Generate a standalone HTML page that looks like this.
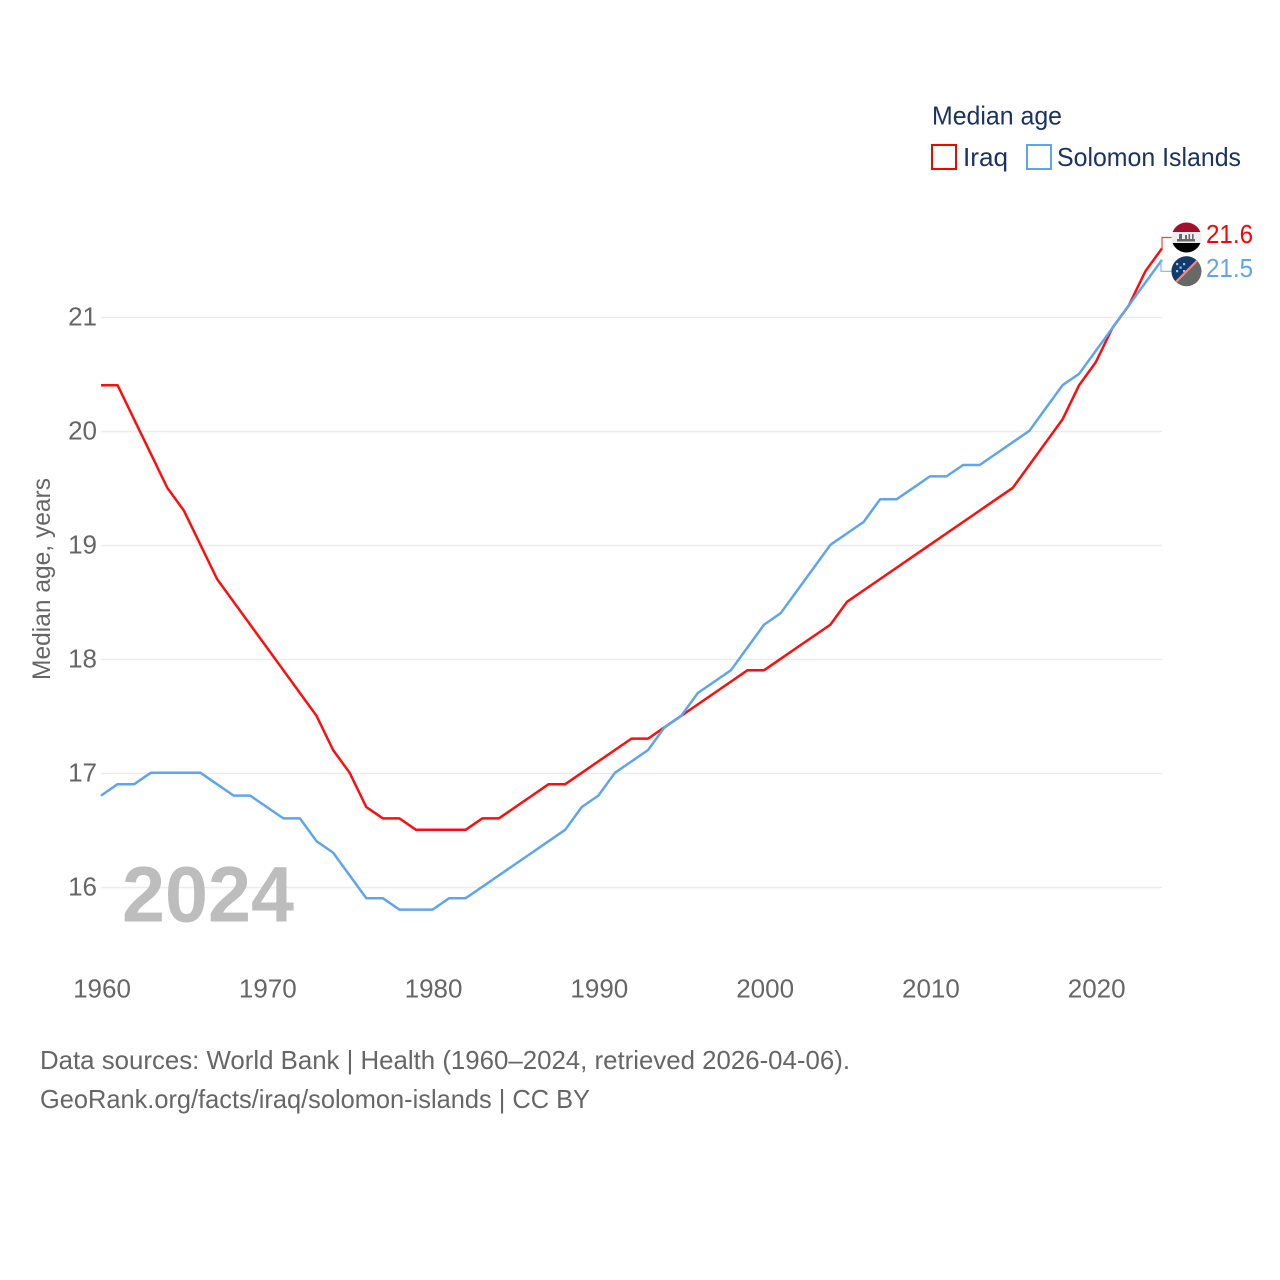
<!DOCTYPE html>
<html lang="en">
<head>
<meta charset="utf-8">
<title>Median age: Iraq and Solomon Islands</title>
<style>
html,body{margin:0;padding:0;background:#fff;}
svg{display:block;font-family:"Liberation Sans",sans-serif;}
</style>
</head>
<body>
<svg id="chart" xmlns="http://www.w3.org/2000/svg" width="1280" height="1280" viewBox="0 0 1280 1280">
  <defs>
    <clipPath id="clip-iraq"><circle cx="1186.5" cy="237.5" r="15"/></clipPath>
    <clipPath id="clip-solomon"><circle cx="1186.5" cy="271.3" r="15"/></clipPath>
  </defs>
  <rect x="0" y="0" width="1280" height="1280" fill="#ffffff"/>
  <g id="grid"></g>
  <text x="122" y="921.5" font-size="79" font-weight="700" fill="#bdbdbd" textLength="172" lengthAdjust="spacingAndGlyphs">2024</text>
  <g id="y-ticks"></g>
  <g id="x-ticks"></g>
  <text transform="translate(50,680) rotate(-90)" font-size="25" fill="#666666" textLength="202" lengthAdjust="spacingAndGlyphs">Median age, years</text>
  <g id="series"></g>

  <g>
    <text x="932" y="124.5" font-size="26" fill="#1a3360" textLength="130" lengthAdjust="spacingAndGlyphs">Median age</text>
    <g>
      <rect x="932" y="145" width="24" height="24" fill="#ffffff" stroke="#ff0000" stroke-width="2"/>
      <text x="963" y="166" font-size="26" fill="#1a3360" textLength="45" lengthAdjust="spacingAndGlyphs">Iraq</text>
    </g>
    <g>
      <rect x="1027" y="145" width="24" height="24" fill="#ffffff" stroke="#5fa5ec" stroke-width="2"/>
      <text x="1057" y="166" font-size="26" fill="#1a3360" textLength="184" lengthAdjust="spacingAndGlyphs">Solomon Islands</text>
    </g>
  </g>

  <g id="end-connectors"></g>

  <g clip-path="url(#clip-iraq)">
    <rect x="1170" y="221" width="34" height="11" fill="#a50f2d"/>
    <rect x="1170" y="232" width="34" height="11" fill="#eeeeee"/>
    <rect x="1170" y="243" width="34" height="11" fill="#000000"/>
    <rect x="1177" y="239" width="18" height="2.5" fill="#6a6a6a"/>
    <rect x="1179" y="234" width="3" height="5" fill="#6a6a6a"/>
    <rect x="1185" y="235" width="2" height="4" fill="#6a6a6a"/>
    <rect x="1188.5" y="234" width="1.6" height="5" fill="#6a6a6a"/>
    <rect x="1192" y="234" width="1.6" height="5" fill="#6a6a6a"/>
  </g>
  <g clip-path="url(#clip-solomon)">
    <rect x="1170" y="255" width="34" height="34" fill="#666a66"/>
    <polygon points="1170,255 1204,255 1170,288.6" fill="#123a6d"/>
    <line x1="1170" y1="287.8" x2="1203" y2="254.8" stroke="#f08a80" stroke-width="2.2"/>
    <g fill="#8fc6ee">
      <rect x="1176" y="263" width="2.2" height="2.2"/>
      <rect x="1183" y="263" width="2.2" height="2.2"/>
      <rect x="1179.5" y="266.5" width="2.2" height="2.2"/>
      <rect x="1176" y="270" width="2.2" height="2.2"/>
      <rect x="1183" y="270" width="2.2" height="2.2"/>
    </g>
  </g>

  <text x="1206" y="243" font-size="26" fill="#ff0000" textLength="47" lengthAdjust="spacingAndGlyphs">21.6</text>
  <text x="1206" y="277" font-size="26" fill="#5fa5ec" textLength="47" lengthAdjust="spacingAndGlyphs">21.5</text>

  <text x="40" y="1069" font-size="26" fill="#666666" textLength="810" lengthAdjust="spacingAndGlyphs">Data sources: World Bank | Health (1960–2024, retrieved 2026-04-06).</text>
  <a><text x="40" y="1108" font-size="26" fill="#666666" textLength="550" lengthAdjust="spacingAndGlyphs">GeoRank.org/facts/iraq/solomon-islands | CC BY</text></a>
</svg>
<script>
const startYear = 1960;
const iraqValues = [20.4,20.4,20.1,19.8,19.5,19.3,19.0,18.7,18.5,18.3,18.1,17.9,17.7,17.5,17.2,17.0,16.7,16.6,16.6,16.5,16.5,16.5,16.5,16.6,16.6,16.7,16.8,16.9,16.9,17.0,17.1,17.2,17.3,17.3,17.4,17.5,17.6,17.7,17.8,17.9,17.9,18.0,18.1,18.2,18.3,18.5,18.6,18.7,18.8,18.9,19.0,19.1,19.2,19.3,19.4,19.5,19.7,19.9,20.1,20.4,20.6,20.9,21.1,21.4,21.6];
const solomonValues = [16.8,16.9,16.9,17.0,17.0,17.0,17.0,16.9,16.8,16.8,16.7,16.6,16.6,16.4,16.3,16.1,15.9,15.9,15.8,15.8,15.8,15.9,15.9,16.0,16.1,16.2,16.3,16.4,16.5,16.7,16.8,17.0,17.1,17.2,17.4,17.5,17.7,17.8,17.9,18.1,18.3,18.4,18.6,18.8,19.0,19.1,19.2,19.4,19.4,19.5,19.6,19.6,19.7,19.7,19.8,19.9,20.0,20.2,20.4,20.5,20.7,20.9,21.1,21.3,21.5];
const yTickValues = [16,17,18,19,20,21];
const xTickValues = [1960,1970,1980,1990,2000,2010,2020];

const NS = 'http://www.w3.org/2000/svg';
function xScale(year){ return 101 + (year - 1960) * (1162 - 101) / 64; }
function yScale(value){ return 887.5 - (value - 16) * 114; }
function linePoints(values){
  return values.map(function(v, i){ return xScale(startYear + i).toFixed(2) + ',' + (yScale(v) - 0.7).toFixed(2); }).join(' ');
}

const gridGroup = document.getElementById('grid');
const yTickGroup = document.getElementById('y-ticks');
yTickValues.forEach(function(v){
  const line = document.createElementNS(NS, 'line');
  
  
  line.setAttribute('x1', xScale(1960));
  line.setAttribute('x2', xScale(2024));
  line.setAttribute('y1', yScale(v));
  line.setAttribute('y2', yScale(v));
  line.setAttribute('stroke', '#ececec');
  line.setAttribute('stroke-width', '1.4');
  gridGroup.appendChild(line);

  const label = document.createElementNS(NS, 'text');
  
  
  label.setAttribute('x', '97');
  label.setAttribute('y', yScale(v) + 8);
  label.setAttribute('text-anchor', 'end');
  label.setAttribute('font-size', '26');
  label.setAttribute('fill', '#666666');
  label.textContent = String(v);
  yTickGroup.appendChild(label);
});

const xTickGroup = document.getElementById('x-ticks');
xTickValues.forEach(function(year){
  const label = document.createElementNS(NS, 'text');
  
  
  label.setAttribute('x', xScale(year) + 1);
  label.setAttribute('y', '997.5');
  label.setAttribute('text-anchor', 'middle');
  label.setAttribute('font-size', '26');
  label.setAttribute('fill', '#666666');
  label.textContent = String(year);
  xTickGroup.appendChild(label);
});

const seriesGroup = document.getElementById('series');
const solomonLine = document.createElementNS(NS, 'polyline');


solomonLine.setAttribute('points', linePoints(solomonValues));
solomonLine.setAttribute('fill', 'none');
solomonLine.setAttribute('stroke', '#5fa5ec');
solomonLine.setAttribute('stroke-width', '2.5');
solomonLine.setAttribute('stroke-linejoin', 'round');

const iraqLine = document.createElementNS(NS, 'polyline');


iraqLine.setAttribute('points', linePoints(iraqValues));
iraqLine.setAttribute('fill', 'none');
iraqLine.setAttribute('stroke', '#ff0d0d');
iraqLine.setAttribute('stroke-width', '2.5');
iraqLine.setAttribute('stroke-linejoin', 'round');

seriesGroup.appendChild(iraqLine);
seriesGroup.appendChild(solomonLine);

const connectorGroup = document.getElementById('end-connectors');
const iraqEnd = yScale(iraqValues[iraqValues.length - 1]);
const solomonEnd = yScale(solomonValues[solomonValues.length - 1]);

const iraqConnector = document.createElementNS(NS, 'polyline');


iraqConnector.setAttribute('points', xScale(2024) + ',' + iraqEnd + ' ' + xScale(2024) + ',237.5 1172,237.5');
iraqConnector.setAttribute('fill', 'none');
iraqConnector.setAttribute('stroke', '#ff3b3b');
iraqConnector.setAttribute('stroke-width', '1.2');
connectorGroup.appendChild(iraqConnector);

const solomonConnector = document.createElementNS(NS, 'polyline');


solomonConnector.setAttribute('points', (xScale(2024) - 1) + ',' + solomonEnd + ' ' + (xScale(2024) - 1) + ',271.3 1172,271.3');
solomonConnector.setAttribute('fill', 'none');
solomonConnector.setAttribute('stroke', '#7fb5ee');
solomonConnector.setAttribute('stroke-width', '1.2');
connectorGroup.appendChild(solomonConnector);
</script>
</body>
</html>
